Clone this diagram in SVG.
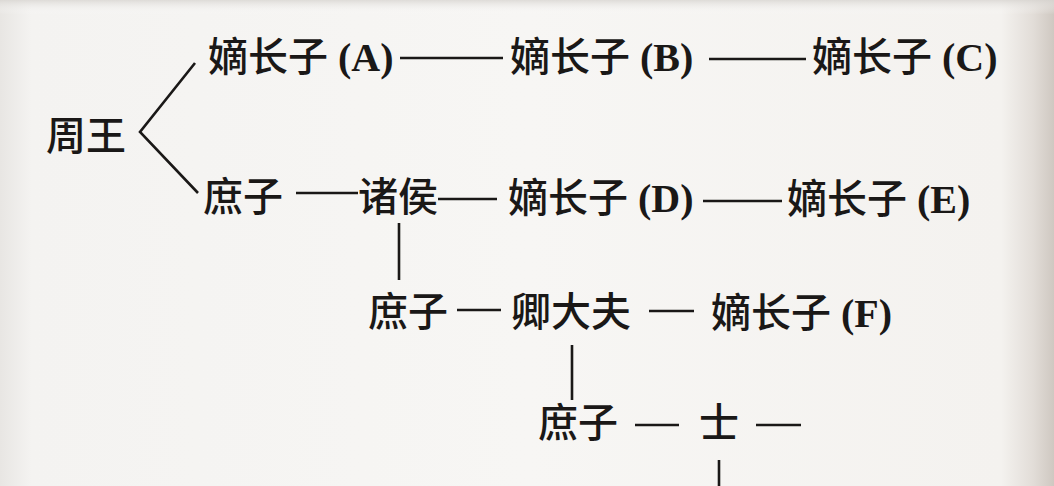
<svg xmlns="http://www.w3.org/2000/svg" width="1054" height="486" viewBox="0 0 1054 486">
<defs>
<linearGradient id="bgH" x1="0" y1="0" x2="1" y2="0">
<stop offset="0" stop-color="#e8e6e3"/>
<stop offset="0.03" stop-color="#f4f3f1"/>
<stop offset="0.5" stop-color="#f7f6f4"/>
<stop offset="0.95" stop-color="#f4f2ef"/>
<stop offset="0.98" stop-color="#e2ddd8"/>
<stop offset="1" stop-color="#cfc8c1"/>
</linearGradient>
<linearGradient id="bgV" x1="0" y1="0" x2="0" y2="1">
<stop offset="0" stop-color="#d8d5d1" stop-opacity="0.8"/>
<stop offset="0.03" stop-color="#ffffff" stop-opacity="0"/>
<stop offset="1" stop-color="#ffffff" stop-opacity="0"/>
</linearGradient>
<style>
.t{font-family:"Noto Sans CJK SC","Liberation Serif",serif;font-size:40px;font-weight:500;fill:#1a1817;}
.l{font-family:"Liberation Serif","Noto Sans CJK SC",serif;font-weight:bold;font-size:40px;}
.c{stroke:#1a1817;stroke-width:2.6;fill:none;stroke-linecap:butt;stroke-linejoin:miter;}
</style>
</defs>
<rect width="1054" height="486" fill="url(#bgH)"/>
<rect width="1054" height="486" fill="url(#bgV)"/>
<g id="connectors">
<polyline class="c" points="195,63 140,132 198,193"/>
<line class="c" x1="400" y1="58" x2="503" y2="58"/>
<line class="c" x1="709" y1="59" x2="806" y2="59"/>
<line class="c" x1="296" y1="193" x2="358" y2="193"/>
<line class="c" x1="438" y1="199" x2="497" y2="199"/>
<line class="c" x1="703" y1="201" x2="782" y2="201"/>
<line class="c" x1="399" y1="223" x2="399" y2="280"/>
<line class="c" x1="457" y1="310" x2="501" y2="310"/>
<line class="c" x1="649" y1="311" x2="694" y2="311"/>
<line class="c" x1="572" y1="345" x2="572" y2="400"/>
<line class="c" x1="635" y1="425" x2="679" y2="425"/>
<line class="c" x1="756" y1="425" x2="801" y2="425"/>
<line class="c" x1="719" y1="460" x2="719" y2="486"/>
</g>
<g id="zhouwang"><text class="t" x="46" y="150">周王</text></g>
<g id="dizhangzi-a"><text class="t" x="208" y="71">嫡长子<tspan class="l"> (A)</tspan></text></g>
<g id="dizhangzi-b"><text class="t" x="510" y="71">嫡长子<tspan class="l"> (B)</tspan></text></g>
<g id="dizhangzi-c"><text class="t" x="812" y="71">嫡长子<tspan class="l"> (C)</tspan></text></g>
<g id="shuzi-1"><text class="t" x="203" y="211">庶子</text></g>
<g id="zhuhou"><text class="t" x="358" y="211">诸侯</text></g>
<g id="dizhangzi-d"><text class="t" x="508" y="212">嫡长子<tspan class="l"> (D)</tspan></text></g>
<g id="dizhangzi-e"><text class="t" x="787" y="213">嫡长子<tspan class="l"> (E)</tspan></text></g>
<g id="shuzi-2"><text class="t" x="368" y="326">庶子</text></g>
<g id="qingdafu"><text class="t" x="511" y="326">卿大夫</text></g>
<g id="dizhangzi-f"><text class="t" x="711" y="327">嫡长子<tspan class="l"> (F)</tspan></text></g>
<g id="shuzi-3"><text class="t" x="538" y="437">庶子</text></g>
<g id="shi"><text class="t" x="699" y="437">士</text></g>
</svg>
